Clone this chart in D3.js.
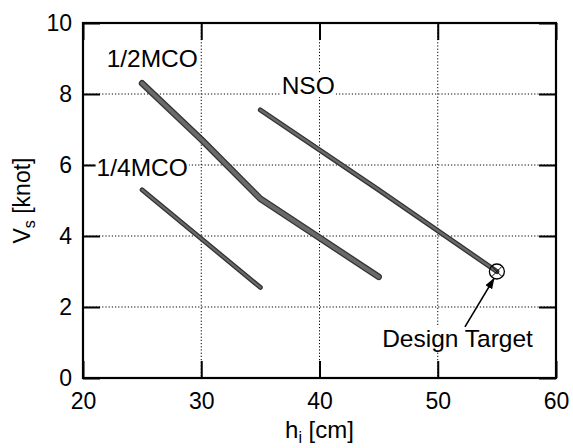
<!DOCTYPE html>
<html>
<head>
<meta charset="utf-8">
<script src="https://cdn.jsdelivr.net/npm/d3@7"></script>
<style>
  body { margin: 0; background: #fff; }
  svg { display: block; }
  text { font-family: "Liberation Sans", Arial, Helvetica, sans-serif; fill: #000; }
</style>
</head>
<body>
<svg id="chart" width="573" height="448"></svg>
<script>
// values: hull length h_i [cm] vs ship speed V_s [knot]
var halfMco = [[25, 8.3], [30, 6.72], [35, 5.05], [40, 3.95], [45, 2.85]];
var quarterMco = [[25, 5.3], [35, 2.55]];
var nso = [[35, 7.55], [45, 5.3], [55, 3.0]];
var designTarget = [55, 3.0];

var xTicks = [20, 30, 40, 50, 60];
var yTicks = [0, 2, 4, 6, 8, 10];

// label anchors (data coords)
var labels = [
    {text: "1/2MCO", x: 22.0, y: 8.76},
    {text: "NSO", x: 36.8, y: 8.0},
    {text: "1/4MCO", x: 21.15, y: 5.69},
    {text: "Design Target", x: 45.3, y: 0.87}
];
var arrowFrom = [52.3, 1.44], arrowTo = [54.75, 2.8];

var margin = {top: 23, right: 17, bottom: 70, left: 83};
var width = 573 - margin.left - margin.right;
var height = 448 - margin.top - margin.bottom;

var svg = d3.select("#chart");
var g = svg.append("g").attr("transform", "translate(" + margin.left + "," + margin.top + ")");

var x = d3.scaleLinear().domain([20, 60]).range([0, width]);
var y = d3.scaleLinear().domain([0, 10]).range([height, 0]);

// dotted grid
g.append("g").selectAll("line").data(xTicks.slice(1, -1)).enter().append("line")
    .attr("x1", d => x(d)).attr("x2", d => x(d))
    .attr("y1", 0).attr("y2", height)
    .attr("stroke", "#000").attr("stroke-width", 1).attr("stroke-dasharray", "1.2,2");
g.append("g").selectAll("line").data(yTicks.slice(1, -1)).enter().append("line")
    .attr("y1", d => y(d)).attr("y2", d => y(d))
    .attr("x1", 0).attr("x2", width)
    .attr("stroke", "#000").attr("stroke-width", 1).attr("stroke-dasharray", "1.2,2");

// axes with inward ticks on all sides
var tickLen = 17;
var axBottom = g.append("g").attr("transform", "translate(0," + height + ")")
    .call(d3.axisBottom(x).tickValues(xTicks).tickSizeInner(-tickLen).tickSizeOuter(0).tickPadding(15));
var axLeft = g.append("g")
    .call(d3.axisLeft(y).tickValues(yTicks).tickSizeInner(-tickLen).tickSizeOuter(0).tickPadding(11));
var axTop = g.append("g")
    .call(d3.axisTop(x).tickValues(xTicks).tickSizeInner(-tickLen).tickSizeOuter(0).tickFormat(""));
var axRight = g.append("g").attr("transform", "translate(" + width + ",0)")
    .call(d3.axisRight(y).tickValues(yTicks).tickSizeInner(-tickLen).tickSizeOuter(0).tickFormat(""));

[axBottom, axLeft, axTop, axRight].forEach(function(a) {
    a.select(".domain").remove();
    a.selectAll(".tick line").attr("stroke", "#000").attr("stroke-width", 2);
    a.selectAll(".tick text").style("font-size", "23px")
        .style("font-family", '"Liberation Sans", Arial, sans-serif');
});

g.append("rect").attr("width", width).attr("height", height)
    .attr("fill", "none").attr("stroke", "#000").attr("stroke-width", 2.2);

// annotation labels on white boxes
labels.forEach(function(l) {
    var t = g.append("text").attr("x", x(l.x)).attr("y", y(l.y))
        .style("font-size", "24.5px").text(l.text);
    var b = t.node().getBBox();
    g.insert("rect", function() { return t.node(); })
        .attr("x", b.x - 1).attr("y", b.y + 2).attr("width", b.width + 2).attr("height", b.height - 4)
        .attr("fill", "#fff");
});

// curves
var line = d3.line().x(d => x(d[0])).y(d => y(d[1]));
[[halfMco, 6.6], [quarterMco, 4.8], [nso, 5.0]].forEach(function(s) {
    g.append("path").datum(s[0]).attr("d", line)
        .attr("fill", "none").attr("stroke", "#333").attr("stroke-width", s[1])
        .attr("stroke-linecap", "round").attr("stroke-linejoin", "round");
    g.append("path").datum(s[0]).attr("d", line)
        .attr("fill", "none").attr("stroke", "#6a6a6a").attr("stroke-width", s[1] - 2.6)
        .attr("stroke-linecap", "round").attr("stroke-linejoin", "round");
});

// design target marker
var cx = x(designTarget[0]), cy = y(designTarget[1]), r = 7.5;
g.append("circle").attr("cx", cx).attr("cy", cy).attr("r", r)
    .attr("fill", "none").attr("stroke", "#000").attr("stroke-width", 1.3);
g.append("path")
    .attr("d", "M" + (cx - 5) + "," + (cy - 5) + "L" + (cx + 5) + "," + (cy + 5) +
               "M" + (cx + 5) + "," + (cy - 5) + "L" + (cx - 5) + "," + (cy + 5))
    .attr("stroke", "#000").attr("stroke-width", 1);

// arrow
svg.append("defs").append("marker").attr("id", "arr")
    .attr("viewBox", "0 0 10 10").attr("refX", 9).attr("refY", 5)
    .attr("markerWidth", 7).attr("markerHeight", 7).attr("orient", "auto")
    .append("path").attr("d", "M0,1.5L10,5L0,8.5Z").attr("fill", "#000");
g.append("line")
    .attr("x1", x(arrowFrom[0])).attr("y1", y(arrowFrom[1]))
    .attr("x2", x(arrowTo[0])).attr("y2", y(arrowTo[1]))
    .attr("stroke", "#000").attr("stroke-width", 1.6).attr("marker-end", "url(#arr)");

// axis titles
var xt = svg.append("text").attr("x", margin.left + width / 2).attr("y", 438)
    .attr("text-anchor", "middle").style("font-size", "24px");
xt.append("tspan").text("h");
xt.append("tspan").attr("dy", 5).style("font-size", "16px").text("i");
xt.append("tspan").attr("dy", -5).text(" [cm]");

var yt = svg.append("text").attr("transform", "translate(30," + (margin.top + height / 2) + ") rotate(-90)")
    .attr("text-anchor", "middle").style("font-size", "23px");
yt.append("tspan").text("V");
yt.append("tspan").attr("dy", 5).style("font-size", "16px").text("s");
yt.append("tspan").attr("dy", -5).text(" [knot]");
</script>
</body>
</html>
